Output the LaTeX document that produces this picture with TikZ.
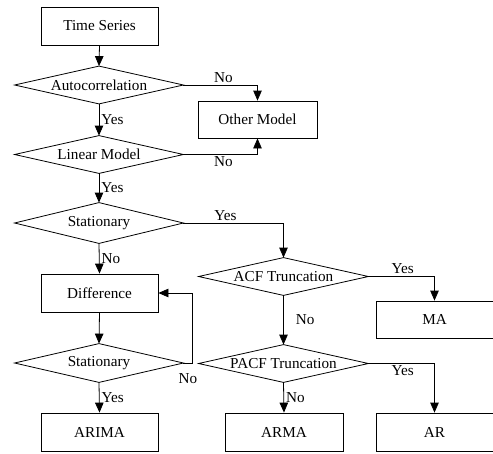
\documentclass[tikz,border=0pt]{standalone}
\usepackage{fontspec}
\setmainfont{Liberation Serif}
\usetikzlibrary{arrows.meta,calc}
\begin{document}
\begin{tikzpicture}[x=1pt,y=-1pt,
  font=\fontsize{15.2}{18}\selectfont,
  line width=0.8pt,
  box/.style={draw, minimum width=117pt, minimum height=38pt, inner sep=0pt},
  dia/.style={minimum width=168pt, minimum height=37pt, inner sep=0pt},
  arr/.style={-{Triangle[length=10pt,width=8.5pt]}},
  lab/.style={inner sep=2pt}]
\useasboundingbox (0,0) rectangle (493,453);

% nodes
\node[box] (ts) at (99.5,26) {Time Series};
\node[dia] (ac) at (99,85) {Autocorrelation};
\node[dia] (lm) at (99,154.5) {Linear Model};
\node[dia,minimum height=40pt] (st1) at (99,223) {Stationary};
\node[box] (diff) at (99.5,293) {Difference};
\node[dia,minimum height=38pt] (st2) at (99,363) {Stationary};
\node[box] (arima) at (99.5,432) {ARIMA};
\node[box,minimum width=119pt,minimum height=37pt] (om) at (257.5,119.5) {Other Model};
\node[dia,minimum width=169pt] (acf) at (283.5,276.5) {ACF Truncation};
\node[box,minimum height=37pt] (ma) at (434.5,319.5) {MA};
\node[dia,minimum width=169pt] (pacf) at (283.5,363.5) {PACF Truncation};
\node[box,minimum width=118pt] (arma) at (284,432) {ARMA};
\node[box] (ar) at (434.5,432) {AR};

% diamonds
\foreach \n in {ac,lm,st1,st2,acf,pacf}
  \draw (\n.west) -- (\n.north) -- (\n.east) -- (\n.south) -- cycle;

% thick bottom edges
\foreach \n/\a/\b in {ts/9/0, diff/12/13, arima/20/20, arma/23/23, ma/34/31, ar/36/33}
  \draw[line width=1.8pt] ($(\n.south west)+(\a,0)$) -- ($(\n.south east)-(\b,0)$);

% connectors
\draw[arr] (ts.south) -- (ac.north);
\draw[arr] (ac.south) -- node[lab,right]{Yes} (lm.north);
\draw[arr] (lm.south) -- node[lab,right]{Yes} (st1.north);
\draw[arr] (st1.south) -- node[lab,right]{No} (diff.north);
\draw[arr] (diff.south) -- (st2.north);
\draw[arr] (st2.south) -- node[lab,right]{Yes} (arima.north);
\draw[arr] (st2.east) -- node[lab,below=8pt]{No} ++(9,0) |- (diff.east);
\draw[arr] (ac.east) -| node[lab,above,pos=0.27]{No} (om.north);
\draw[arr] (lm.east) -| node[lab,below,pos=0.27]{No} (om.south);
\draw[arr] (st1.east) -| node[lab,above,pos=0.21]{Yes} (acf.north);
\draw[arr] (acf.east) -| node[lab,above,pos=0.26]{Yes} (ma.north);
\draw[arr] (acf.south) -- node[lab,right=10pt]{No} (pacf.north);
\draw[arr] (pacf.south) -- node[lab,right]{No} (arma.north);
\draw[arr] (pacf.east) -| node[lab,below,pos=0.26]{Yes} (ar.north);
\end{tikzpicture}
\end{document}
